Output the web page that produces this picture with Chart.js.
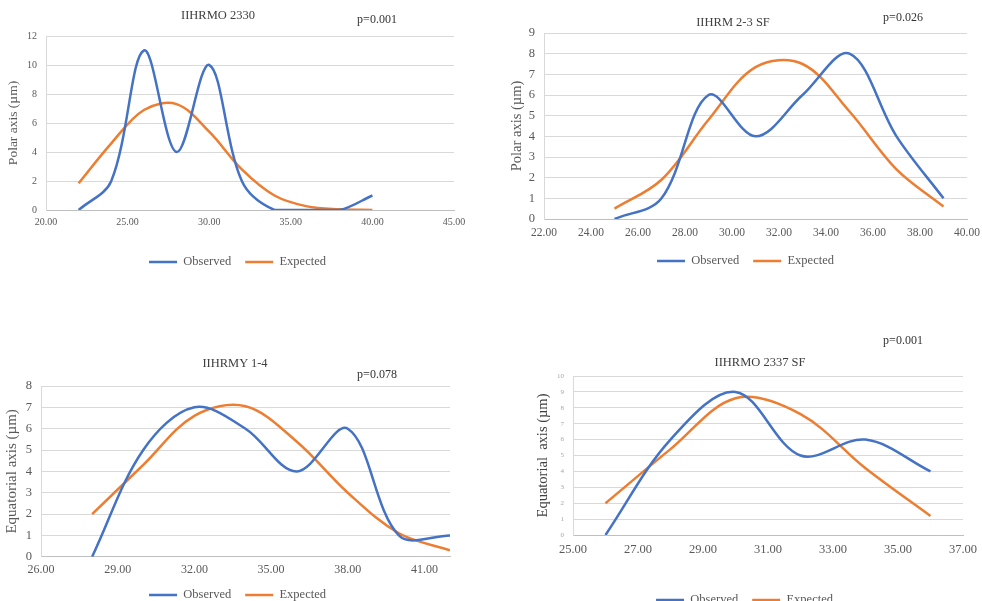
<!DOCTYPE html>
<html>
<head>
<meta charset="utf-8">
<script src="https://cdn.jsdelivr.net/npm/chart.js@4.4.1/dist/chart.umd.min.js"></script>
<style>
  html, body { margin: 0; padding: 0; background: #fff; }
  body { width: 982px; height: 601px; position: relative; overflow: hidden; font-family: "Liberation Serif", serif; }
  canvas { position: absolute; }
  .lbl { position: absolute; transform: translate(-50%, -50%); white-space: nowrap; color: #404040; font-size: 12.5px; }
  .pv { color: #333; font-size: 12px; }
</style>
</head>
<body>
<canvas id="c1" width="475" height="300" style="left:0px;top:0px"></canvas>
<canvas id="c2" width="511" height="300" style="left:490px;top:0px"></canvas>
<canvas id="c3" width="475" height="320" style="left:0px;top:300px"></canvas>
<canvas id="c4" width="509" height="320" style="left:490px;top:320px"></canvas>

<div class="lbl" style="left:218px;top:15px">IIHRMO 2330</div>
<div class="lbl pv" style="left:377px;top:19px">p=0.001</div>
<div class="lbl" style="left:733px;top:22px">IIHRM 2-3 SF</div>
<div class="lbl pv" style="left:903px;top:17px">p=0.026</div>
<div class="lbl" style="left:235px;top:363px">IIHRMY 1-4</div>
<div class="lbl pv" style="left:377px;top:374px">p=0.078</div>
<div class="lbl pv" style="left:903px;top:340px">p=0.001</div>
<div class="lbl" style="left:760px;top:362px">IIHRMO 2337 SF</div>

<script>
// ---- data ----
var seriesNames = ['Observed', 'Expected'];

// IIHRMO 2330 (polar axis)
var x1 = [22, 24, 26, 28, 30, 32, 34, 36, 38, 40];
var observed1 = [0, 2, 11, 4, 10, 2, 0, 0, 0, 1];
var expected1 = [1.85, 4.6, 6.9, 7.3, 5.4, 2.8, 1.0, 0.25, 0.05, 0];
var xTicks1 = [20, 25, 30, 35, 40, 45];

// IIHRM 2-3 SF (polar axis)
var x2 = [25, 27, 29, 31, 33, 35, 37, 39];
var observed2 = [0, 1, 6, 4, 6, 8, 4, 1];
var expected2 = [0.5, 1.9, 4.8, 7.35, 7.5, 5.2, 2.4, 0.6];
var xTicks2 = [22, 24, 26, 28, 30, 32, 34, 36, 38, 40];

// IIHRMY 1-4 (equatorial axis)
var x3 = [28, 30, 32, 34, 36, 38, 40, 42];
var observed3 = [0, 5, 7, 6, 4, 6, 1, 1];
var expected3 = [2, 4.3, 6.6, 7.05, 5.4, 3.0, 1.1, 0.3];
var xTicks3 = [26, 29, 32, 35, 38, 41];

// IIHRMO 2337 SF (equatorial axis)
var x4 = [26, 28, 30, 32, 34, 36];
var observed4 = [0, 6, 9, 5, 6, 4];
var expected4 = [2, 5.4, 8.6, 7.6, 4.2, 1.2];
var xTicks4 = [25, 27, 29, 31, 33, 35, 37];

var BLUE = '#4472C4';
var ORANGE = '#ED7D31';
var GREY = '#595959';
var FONT = '"Liberation Serif", "Times New Roman", serif';

function points(xs, ys) {
    return xs.map(function (x, i) { return { x: x, y: ys[i] }; });
}

function makeChart(id, o) {
    var ctx = document.getElementById(id).getContext('2d');
    return new Chart(ctx, {
        type: 'scatter',
        data: {
            datasets: [{
                label: seriesNames[0],
                data: points(o.xs, o.obs),
                borderColor: BLUE,
                backgroundColor: BLUE,
                borderWidth: 2.5,
                showLine: true,
                tension: 0.35,
                pointRadius: 0
            }, {
                label: seriesNames[1],
                data: points(o.xs, o.exp),
                borderColor: ORANGE,
                backgroundColor: ORANGE,
                borderWidth: 2.5,
                showLine: true,
                tension: 0.35,
                pointRadius: 0
            }]
        },
        options: {
            responsive: false,
            animation: false,
            layout: { padding: { top: o.padTop, bottom: o.padBottom, left: 0, right: 0 } },
            plugins: {
                tooltip: { enabled: false },
                legend: {
                    position: 'bottom',
                    labels: {
                        usePointStyle: true,
                        pointStyle: 'line',
                        pointStyleWidth: 28,
                        padding: 14,
                        color: GREY,
                        font: { family: FONT, size: 12.5 }
                    }
                }
            },
            scales: {
                x: {
                    type: 'linear',
                    min: o.xTicks[0],
                    max: o.xMax,
                    grid: { display: false, drawTicks: false },
                    border: { color: '#bfbfbf' },
                    ticks: {
                        padding: o.xPad,
                        color: GREY,
                        maxRotation: 0,
                        autoSkip: false,
                        font: { family: FONT, size: o.xFont },
                        callback: function (v) { return v.toFixed(2); }
                    },
                    afterBuildTicks: function (s) {
                        s.ticks = o.xTicks.map(function (v) { return { value: v }; });
                    },
                    afterFit: function (s) { s.height = o.xHeight; }
                },
                y: {
                    min: 0,
                    max: o.yMax,
                    grid: { color: '#d9d9d9', drawTicks: false },
                    border: { color: '#d9d9d9' },
                    ticks: {
                        stepSize: o.yStep,
                        padding: 9,
                        color: o.yTickColor || GREY,
                        font: { family: FONT, size: o.yFont }
                    },
                    title: {
                        display: true,
                        text: o.yTitle,
                        color: o.yTitleColor || GREY,
                        padding: { top: o.yTitlePad, bottom: 0 },
                        font: { family: FONT, size: o.yTitleFont }
                    },
                    afterFit: function (s) { s.width = o.yWidth; }
                },
                pad: {
                    type: 'linear',
                    position: 'right',
                    grid: { display: false },
                    border: { display: false },
                    ticks: { display: false },
                    afterFit: function (s) { s.width = o.padRight; }
                }
            }
        }
    });
}

makeChart('c1', {
    xs: x1, obs: observed1, exp: expected1, xTicks: xTicks1,
    xMax: 45, xFont: 10, xPad: 6,
    yMax: 12, yStep: 2, yFont: 10,
    yTitle: 'Polar axis (µm)', yTitleFont: 13.5, yTitlePad: 5,
    yWidth: 46, padRight: 21, padTop: 36, padBottom: 21.75, xHeight: 31.75
});

makeChart('c2', {
    xs: x2, obs: observed2, exp: expected2, xTicks: xTicks2,
    xMax: 40, xFont: 11.5, xPad: 7,
    yMax: 9, yStep: 1, yFont: 12.5,
    yTitle: 'Polar axis (µm)', yTitleFont: 14.5, yTitlePad: 18,
    yWidth: 54, padRight: 34, padTop: 33, padBottom: 22.75, xHeight: 21.75
});

makeChart('c3', {
    xs: x3, obs: observed3, exp: expected3, xTicks: xTicks3,
    xMax: 42, xFont: 12, xPad: 6,
    yMax: 8, yStep: 1, yFont: 12.5,
    yTitle: 'Equatorial axis (µm)', yTitleFont: 15, yTitlePad: 3,
    yWidth: 41, padRight: 25, padTop: 86, padBottom: 8.75, xHeight: 18
});

makeChart('c4', {
    xs: x4, obs: observed4, exp: expected4, xTicks: xTicks4,
    xMax: 37, xFont: 12.5, xPad: 7.5,
    yMax: 10, yStep: 1, yFont: 7, yTickColor: '#a6a6a6',
    yTitle: 'Equatorial  axis (µm)', yTitleFont: 14.5, yTitlePad: 44, yTitleColor: '#404040',
    yWidth: 83, padRight: 36, padTop: 56, padBottom: 23.75, xHeight: 44.75
});
</script>
</body>
</html>
